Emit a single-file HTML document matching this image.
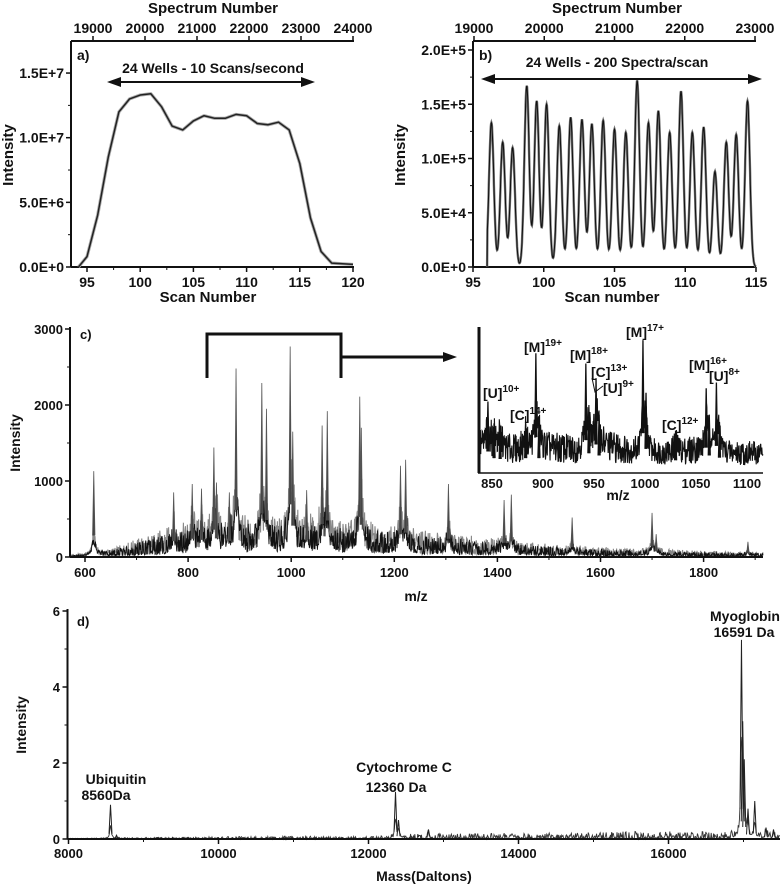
<!DOCTYPE html>
<html><head><meta charset="utf-8"><style>
html,body{margin:0;padding:0;background:#fff;}
svg{display:block;}
text{font-family:"Liberation Sans",Arial,sans-serif;font-weight:bold;fill:#111;}
</style></head><body>
<svg id="fig" width="780" height="887" viewBox="0 0 780 887" xmlns="http://www.w3.org/2000/svg"></svg>
<script>
// ---------- DATA ----------
const aScan = [94.2,95,96,97,98,99,100,101,102,103,104,105,106,107,108,109,110,111,112,113,114,115,116,117,118,120];
const aInt  = [0,0.08e7,0.4e7,0.85e7,1.2e7,1.3e7,1.33e7,1.34e7,1.24e7,1.09e7,1.06e7,1.13e7,1.17e7,1.15e7,1.15e7,1.18e7,1.17e7,1.11e7,1.1e7,1.12e7,1.06e7,0.8e7,0.38e7,0.12e7,0.03e7,0.02e7];
const aXTicks = [95,100,105,110,115,120];
const aYTicks = [0,5e6,1e7,1.5e7];
const aYLabels = ["0.0E+0","5.0E+6","1.0E+7","1.5E+7"];
const aTopTicks = [19000,20000,21000,22000,23000,24000];
const bPeakScan = [96.3,97.1,97.8,98.8,99.5,100.2,101.1,101.9,102.7,103.4,104.2,105.0,105.8,106.6,107.4,108.1,108.9,109.7,110.5,111.3,112.1,112.9,113.6,114.4];
const bPeakInt  = [1.33e5,1.15e5,1.1e5,1.67e5,1.53e5,1.5e5,1.3e5,1.38e5,1.36e5,1.32e5,1.35e5,1.27e5,1.24e5,1.72e5,1.33e5,1.44e5,1.24e5,1.62e5,1.24e5,1.29e5,0.88e5,1.15e5,1.22e5,1.53e5];
const bXTicks = [95,100,105,110,115];
const bYTicks = [0,5e4,1e5,1.5e5,2e5];
const bYLabels = ["0.0E+0","5.0E+4","1.0E+5","1.5E+5","2.0E+5"];
const bTopTicks = [19000,20000,21000,22000,23000];
const cPeakMz  = [617,772,808,826,850,855,880,893,943,952,998,1003,1030,1060,1070,1133,1136,1212,1222,1305,1413,1427,1545,1700,1708,1886];
const cPeakInt = [1130,850,960,900,1440,980,850,2480,2290,1950,2770,1650,880,1730,1920,2110,1700,1200,1280,960,750,820,520,580,300,200];
const cBaseMz  = [572,620,660,700,760,800,900,1000,1100,1200,1300,1400,1500,1600,1700,1800,1916];
const cBaseLvl = [30,60,130,240,380,450,500,500,460,400,320,240,170,130,110,80,60];
const cXTicks = [600,800,1000,1200,1400,1600,1800];
const cYTicks = [0,1000,2000,3000];
const iPeakMz  = [846,852,858,883,893,896,942,945,952,955,998,1001,1030,1060,1063,1070,1073];
const iPeakRel = [49,34,32,34,82,34,75,45,65,40,91,55,29,58,40,62,35];
const iBaseMz  = [840,870,900,930,960,990,1020,1050,1080,1125];
const iBaseLvl = [28,24,26,24,28,22,20,24,20,20];
const iXTicks = [850,900,950,1000,1050,1100];
const dPeakMass = [8560,8640,12360,12400,12800,16973,16990,17010,17060,17150,17300,17400];
const dPeakInt  = [0.9,0.1,1.24,0.5,0.25,5.24,3.1,2.1,0.8,1.0,0.3,0.25];
const dBaseMass = [8000,9000,10000,11000,12000,12700,13500,14500,15500,16500,17500];
const dBaseLvl  = [0.02,0.04,0.06,0.08,0.06,0.15,0.15,0.16,0.2,0.2,0.2];
const dXTicks = [8000,10000,12000,14000,16000];
const dYTicks = [0,2,4,6];

// ---------- HELPERS ----------
const NS='http://www.w3.org/2000/svg';
const svg=document.getElementById('fig');
function mk(parent,tag,attrs,name,text){
  const el=document.createElementNS(NS,tag);
  for(const k in attrs) el.setAttribute(k,attrs[k]);
  
  
  if(text!=null) el.textContent=text;
  parent.appendChild(el); return el;
}
function line(p,x1,y1,x2,y2,w,name){return mk(p,'line',{x1,y1,x2,y2,stroke:'#111','stroke-width':w},name);}
function txt(p,x,y,s,size,anchor,name,extra){const a=Object.assign({x,y,'font-size':size,'text-anchor':anchor||'middle'},extra||{});return mk(p,'text',a,name,s);}
function interp(xs,ys,x){if(x<=xs[0])return ys[0];for(let i=1;i<xs.length;i++){if(x<=xs[i]){const t=(x-xs[i-1])/(xs[i]-xs[i-1]);return ys[i-1]+t*(ys[i]-ys[i-1]);}}return ys[ys.length-1];}
function tex(i){const s=Math.sin(i*12.9898+78.233)*43758.5453;return s-Math.floor(s);} // deterministic noise texture
function arrowHead(p,x,y,dir,name){const L=14,H=5;mk(p,'polygon',{points:`${x},${y} ${x-dir*L},${y-H} ${x-dir*L},${y+H}`,fill:'#111'},name);}

// ---------- PANEL A ----------
const ga=mk(svg,'g',{},'panel-a');
const xa=v=>87+(v-95)*10.64, ya=v=>267-v/1e6*12.93, sa=s=>93+(s-19000)*0.052;
line(ga,71,267,354,267,2,'x-axis');line(ga,71,41,71,267,2,'y-axis');line(ga,71,41,354,41,2,'top-axis');
aXTicks.forEach(t=>{line(ga,xa(t),267,xa(t),272,1.5,'x-tick');txt(ga,xa(t),287,String(t),14,'middle','x-tick-label');});
for(let t=95;t<=120;t+=2.5){if(t%5)line(ga,xa(t),267,xa(t),270,1,'x-minor-tick');}
aYTicks.forEach((t,i)=>{line(ga,66,ya(t),71,ya(t),1.5,'y-tick');txt(ga,64,ya(t)+5,aYLabels[i],14,'end','y-tick-label');});
for(let t=2.5e6;t<1.75e7;t+=5e6)line(ga,68,ya(t),71,ya(t),1,'y-minor-tick');
aTopTicks.forEach(t=>{line(ga,sa(t),36,sa(t),41,1.5,'top-tick');txt(ga,sa(t),33,String(t),14,'middle','top-tick-label');});
txt(ga,213,13,'Spectrum Number',15,'middle','top-axis-title');
txt(ga,208,302,'Scan Number',15,'middle','x-axis-title');
txt(ga,13,155,'Intensity',15,'middle','y-axis-title',{transform:'rotate(-90 13 155)'});
txt(ga,77,60,'a)',14,'start','panel-label');
txt(ga,213,73,'24 Wells - 10 Scans/second',14,'middle','annotation');
line(ga,116,82,306,82,2,'range-arrow');arrowHead(ga,107,82,-1,'arrow-left');arrowHead(ga,315,82,1,'arrow-right');
mk(ga,'polyline',{points:aScan.map((s,i)=>xa(s)+','+ya(aInt[i])).join(' '),fill:'none',stroke:'#aaa','stroke-width':3.2,'stroke-linejoin':'round'},'series-halo');
mk(ga,'polyline',{points:aScan.map((s,i)=>xa(s)+','+ya(aInt[i])).join(' '),fill:'none',stroke:'#222','stroke-width':1.5,'stroke-linejoin':'round'},'tic-series');

// ---------- PANEL B ----------
const gb=mk(svg,'g',{},'panel-b');
const xb=v=>473+(v-95)*14.15, yb=v=>267-v/1e5*108.5, sb=s=>474+(s-19000)*0.07025;
line(gb,473,267,756,267,2,'x-axis');line(gb,473,41,473,267,2,'y-axis');line(gb,473,41,756,41,2,'top-axis');
bXTicks.forEach(t=>{line(gb,xb(t),267,xb(t),272,1.5,'x-tick');txt(gb,xb(t),287,String(t),14,'middle','x-tick-label');});
bYTicks.forEach((t,i)=>{line(gb,468,yb(t),473,yb(t),1.5,'y-tick');txt(gb,466,yb(t)+5,bYLabels[i],14,'end','y-tick-label');});
for(let t=2.5e4;t<2e5;t+=5e4)line(gb,470,yb(t),473,yb(t),1,'y-minor-tick');
bTopTicks.forEach(t=>{line(gb,sb(t),36,sb(t),41,1.5,'top-tick');txt(gb,sb(t),33,String(t),14,'middle','top-tick-label');});
txt(gb,617,13,'Spectrum Number',15,'middle','top-axis-title');
txt(gb,612,302,'Scan number',15,'middle','x-axis-title');
txt(gb,405,155,'Intensity',15,'middle','y-axis-title',{transform:'rotate(-90 405 155)'});
txt(gb,479,60,'b)',14,'start','panel-label');
txt(gb,617,67,'24 Wells - 200 Spectra/scan',14,'middle','annotation');
line(gb,490,79,753,79,2,'range-arrow');arrowHead(gb,481,79,-1,'arrow-left');arrowHead(gb,762,79,1,'arrow-right');
{let pts=[xb(96).toFixed(1)+','+yb(0)];for(let s=96.02;s<=115;s+=0.02){let v=0;bPeakScan.forEach((c,i)=>{v+=bPeakInt[i]*Math.exp(-Math.pow((s-c)/0.17,2)/2);});pts.push(xb(s).toFixed(1)+','+yb(v).toFixed(1));}
mk(gb,'polyline',{points:pts.join(' '),fill:'none',stroke:'#777','stroke-width':2.4},'wells-series-halo');
mk(gb,'polyline',{points:pts.join(' '),fill:'none',stroke:'#111','stroke-width':1},'wells-series');}

// ---------- PANEL C ----------
const gc=mk(svg,'g',{},'panel-c');
const xc=m=>85+(m-600)*0.5155, yc=v=>557-v*0.076;
function cVal(m,k){let v=interp(cBaseMz,cBaseLvl,m)*(0.1+0.9*Math.pow(tex(k),1.6));cPeakMz.forEach((c,i)=>{v+=cPeakInt[i]*0.3*(0.4+0.6*tex(k+7))/(1+Math.pow((m-c)/4,2));});return v;}
{let pts=[],pts2=[],k=0;for(let px=71;px<=763;px+=0.4){const m=600+(px-85)/0.5155;pts.push(px.toFixed(2)+','+yc(cVal(m,k++)).toFixed(1));}
mk(gc,'polyline',{points:pts.join(' '),fill:'none',stroke:'#888','stroke-width':1.1},'spectrum-noise-halo');
for(let px=71;px<=763;px+=0.4){const m=600+(px-85)/0.5155;pts2.push(px.toFixed(2)+','+yc(cVal(m,k++)*0.8).toFixed(1));}
mk(gc,'polyline',{points:pts2.join(' '),fill:'none',stroke:'#111','stroke-width':0.9},'spectrum-noise');}
cPeakMz.forEach((c,i)=>{mk(gc,'path',{d:`M${xc(c)-1.2},${yc(cPeakInt[i]*0.25)} L${xc(c)},${yc(cPeakInt[i])} L${xc(c)+1.2},${yc(cPeakInt[i]*0.25)}`,fill:'#444',stroke:'#555','stroke-width':0.8},'spectrum-peak');});
line(gc,70,557,763,557,2,'x-axis');line(gc,70,327,70,557,2,'y-axis');
cXTicks.forEach(t=>{line(gc,xc(t),557,xc(t),562,1.5,'x-tick');txt(gc,xc(t),577,String(t),13,'middle','x-tick-label');});
for(let t=700;t<1950;t+=200)line(gc,xc(t),557,xc(t),560,1,'x-minor-tick');
cYTicks.forEach(t=>{line(gc,65,yc(t),70,yc(t),1.5,'y-tick');txt(gc,63,yc(t)+5,String(t),13,'end','y-tick-label');});
for(let t=500;t<3000;t+=1000)line(gc,67,yc(t),70,yc(t),1,'y-minor-tick');
txt(gc,20,443,'Intensity',14,'middle','y-axis-title',{transform:'rotate(-90 20 443)'});
txt(gc,416,601,'m/z',14,'middle','x-axis-title');
txt(gc,80,339,'c)',13,'start','panel-label');
mk(gc,'path',{d:'M207,378 L207,334 L341,334 L341,378 M341,357 L445,357',fill:'none',stroke:'#111','stroke-width':3},'zoom-bracket');
arrowHead(gc,457,357,1,'zoom-arrow');
// inset
const gi=mk(gc,'g',{},'inset');
const xi=m=>492+(m-850)*1.02, yi=r=>473-r*1.46;
{let pts=[],k=500;for(let px=479;px<=763;px+=0.35){const m=850+(px-492)/1.02;let v=interp(iBaseMz,iBaseLvl,m)*(0.15+0.85*tex(k++))+2;iPeakMz.forEach((c,i)=>{v+=iPeakRel[i]*0.35*(0.5+0.5*tex(k+3))/(1+Math.pow((m-c)/1.8,2));});pts.push(px.toFixed(2)+','+yi(v).toFixed(1));}
mk(gi,'polyline',{points:pts.join(' '),fill:'none',stroke:'#111','stroke-width':1.1},'inset-noise');}
iPeakMz.forEach((c,i)=>{mk(gi,'path',{d:`M${xi(c)-1},${yi(iPeakRel[i]*0.3)} L${xi(c)},${yi(iPeakRel[i])} L${xi(c)+1},${yi(iPeakRel[i]*0.3)}`,fill:'#111',stroke:'#111','stroke-width':1.3},'inset-peak');});
line(gi,478,473,763,473,1.5,'inset-x-axis');line(gi,479,327,479,473,3,'inset-y-axis');
iXTicks.forEach(t=>{txt(gi,xi(t),488,String(t),13,'middle','inset-x-tick-label');});
txt(gi,618,500,'m/z',14,'middle','inset-x-axis-title');
function ion(x,y,base,sup,name){const t=mk(gi,'text',{x,y,'font-size':14,'text-anchor':'start'},name);const a=document.createElementNS(NS,'tspan');a.textContent=base;t.appendChild(a);const b=document.createElementNS(NS,'tspan');b.setAttribute('dy','-6');b.setAttribute('font-size','10');b.textContent=sup;t.appendChild(b);}
ion(483,398,'[U]','10+','ion-label-u10');
ion(510,420,'[C]','14+','ion-label-c14');
ion(524,352,'[M]','19+','ion-label-m19');
ion(570,360,'[M]','18+','ion-label-m18');
ion(591,377,'[C]','13+','ion-label-c13');
ion(603,393,'[U]','9+','ion-label-u9');
ion(626,337,'[M]','17+','ion-label-m17');
ion(662,430,'[C]','12+','ion-label-c12');
ion(689,370,'[M]','16+','ion-label-m16');
ion(709,381,'[U]','8+','ion-label-u8');
mk(gi,'path',{d:'M592,378 L595,392 L603,386',fill:'none',stroke:'#111','stroke-width':1},'ion-leader');

// ---------- PANEL D ----------
const gd=mk(svg,'g',{},'panel-d');
const xd=m=>68.5+(m-8000)*0.075, yd=v=>839-v*38;
{let pts=[],k=2000;for(let px=68;px<=780;px+=0.6){const m=8000+(px-68.5)/0.075;let v=interp(dBaseMass,dBaseLvl,m)*Math.pow(tex(k++),2);dPeakMass.forEach((c,i)=>{v+=dPeakInt[i]*0.4/(1+Math.pow((m-c)/12,2));});pts.push(px.toFixed(1)+','+yd(v).toFixed(1));}
mk(gd,'polyline',{points:pts.join(' '),fill:'none',stroke:'#333','stroke-width':0.9},'mass-noise');}
dPeakMass.forEach((c,i)=>{mk(gd,'path',{d:`M${xd(c)-1.5},${yd(dPeakInt[i]*0.15)} L${xd(c)},${yd(dPeakInt[i])} L${xd(c)+1.5},${yd(dPeakInt[i]*0.15)}`,fill:'none',stroke:'#222','stroke-width':1},'mass-peak');});
line(gd,67.5,839,780,839,2,'x-axis');line(gd,67.5,609,67.5,839,2,'y-axis');
dXTicks.forEach(t=>{line(gd,xd(t),839,xd(t),844,1.5,'x-tick');txt(gd,xd(t),858,String(t),13,'middle','x-tick-label');});
for(let t=9000;t<17500;t+=1000)if(t%2000)line(gd,xd(t),839,xd(t),842,1,'x-minor-tick');
dYTicks.forEach(t=>{line(gd,62.5,yd(t),67.5,yd(t),1.5,'y-tick');txt(gd,60,yd(t)+5,String(t),13,'end','y-tick-label');});
for(let t=1;t<6;t+=2)line(gd,64.5,yd(t),67.5,yd(t),1,'y-minor-tick');
txt(gd,26,725,'Intensity',14,'middle','y-axis-title',{transform:'rotate(-90 26 725)'});
txt(gd,424,881,'Mass(Daltons)',14,'middle','x-axis-title');
txt(gd,77,626,'d)',13,'start','panel-label');
txt(gd,116,784,'Ubiquitin',14,'middle','peak-label-ubiquitin');
txt(gd,106,800,'8560Da',14,'middle','peak-label-ubiquitin-mass');
txt(gd,404,772,'Cytochrome C',14,'middle','peak-label-cytochrome');
txt(gd,396,792,'12360 Da',14,'middle','peak-label-cytochrome-mass');
txt(gd,745,621,'Myoglobin',14,'middle','peak-label-myoglobin');
txt(gd,744,637,'16591 Da',14,'middle','peak-label-myoglobin-mass');
</script>
</body></html>
